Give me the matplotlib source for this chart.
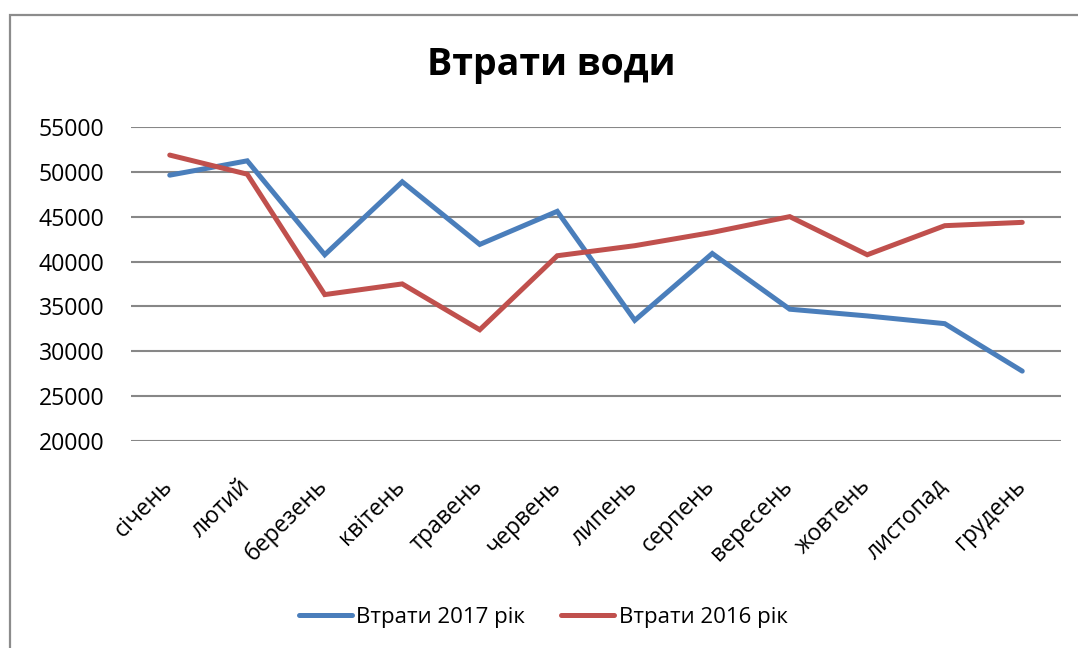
import matplotlib
matplotlib.use("Agg")
import matplotlib.pyplot as plt
from matplotlib.patches import Rectangle
from matplotlib.lines import Line2D
from matplotlib.transforms import ScaledTranslation

plt.rcParams['font.family'] = ['Open Sans', 'DejaVu Sans']

months = ["січень", "лютий", "березень", "квітень", "травень", "червень",
          "липень", "серпень", "вересень", "жовтень", "листопад", "грудень"]
loss_2017 = [49630, 51230, 40760, 48890, 41910, 45600,
             33450, 40900, 34690, 33940, 33080, 27790]
loss_2016 = [51870, 49740, 36320, 37510, 32400, 40650,
             41770, 43250, 45010, 40760, 44000, 44370]
y_ticks = [20000, 25000, 30000, 35000, 40000, 45000, 50000, 55000]
title = "Втрати води"
label_2017 = "Втрати 2017 рік"
label_2016 = "Втрати 2016 рік"

W, H = 1078, 648
fig = plt.figure(figsize=(W / 100, H / 100), dpi=100)
fig.patch.set_facecolor("white")

# outer chart frame (extends past the right/bottom edges)
fig.patches.append(Rectangle((9.5 / W, -0.1), 1.2, 1.1 - 15.5 / H,
                             transform=fig.transFigure, fill=False,
                             edgecolor="#8c8c8c", linewidth=1.6))

ax = fig.add_axes([131 / W, 1 - 441 / H, (1061 - 131) / W, (441 - 127) / H])
x = list(range(len(months)))
blue = "#4a7ebb"
red = "#c0504d"
ax.plot(x, loss_2017, color=blue, linewidth=3.6, solid_capstyle="round",
        solid_joinstyle="miter", label=label_2017, zorder=3)
ax.plot(x, loss_2016, color=red, linewidth=3.6, solid_capstyle="round",
        solid_joinstyle="miter", label=label_2016, zorder=3)

ax.set_xlim(-0.5, len(months) - 0.5)
ax.set_ylim(y_ticks[0], y_ticks[-1])
ax.set_yticks(y_ticks)
ax.set_yticklabels([str(v) for v in y_ticks], fontsize=16.6)
ax.yaxis.grid(True, color="#878787", linewidth=1.5)
ax.set_axisbelow(True)
for s in ax.spines.values():
    s.set_visible(False)
ax.tick_params(axis="both", length=0)
ax.tick_params(axis="y", pad=19)
ax.set_xticks(x)
ax.set_xticklabels(months, rotation=45, ha="right", va="top",
                   rotation_mode="anchor", fontsize=16.6)
ax.tick_params(axis="x", pad=24)
shift = ScaledTranslation(-9 / 100, 0, fig.dpi_scale_trans)
for lbl in ax.get_xticklabels():
    lbl.set_transform(lbl.get_transform() + shift)

fig.text(551 / W, 1 - 65 / H, title, ha="center", va="center",
         fontsize=27, fontweight="bold")

handles = [Line2D([0], [0], color=blue, linewidth=3.6, solid_capstyle="round"),
           Line2D([0], [0], color=red, linewidth=3.6, solid_capstyle="round")]
fig.legend(handles, [label_2017, label_2016], loc="center",
           bbox_to_anchor=(543 / W, 1 - 617 / H), ncol=2, frameon=False,
           fontsize=16, handlelength=2.4, handletextpad=0.2,
           columnspacing=1.6)

fig.savefig("out.png", dpi=100, facecolor="white")
